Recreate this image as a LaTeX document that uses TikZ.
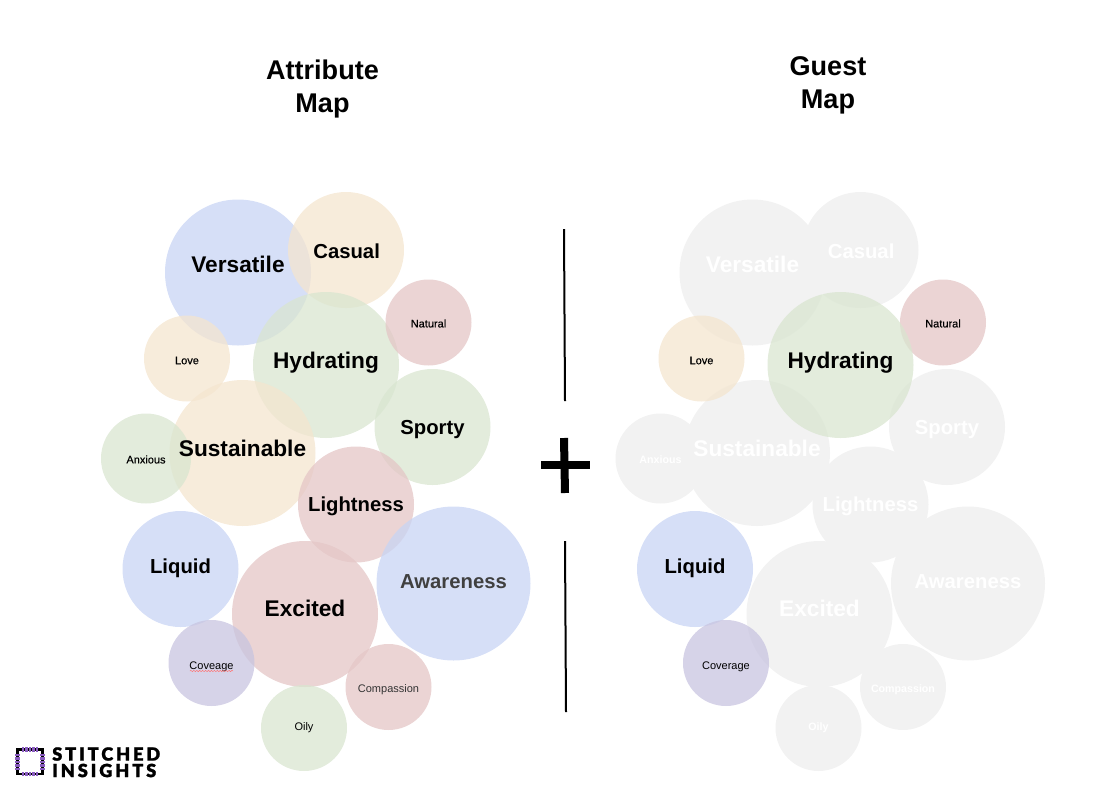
\documentclass[tikz,border=0pt]{standalone}
\usepackage{fontspec}
\setmainfont{Liberation Sans}
\newfontfamily\logofont[LetterSpace=16,FakeBold=1.2]{Lato Black}
\newfontfamily\fauxfont[FakeBold=0.25]{Liberation Sans}
\usepackage{xcolor}
\usetikzlibrary{decorations.pathmorphing}

\definecolor{ablue}{HTML}{C8D4F4}
\definecolor{apeach}{HTML}{F4E5CF}
\definecolor{agreen}{HTML}{D9E5D0}
\definecolor{ared}{HTML}{E4C6C6}
\definecolor{apurple}{HTML}{C8C4E0}
\definecolor{agrey}{HTML}{F2F2F2}
\definecolor{astitch}{HTML}{8A5CC0}

\begin{document}
\begin{tikzpicture}[
  x=0.75pt, y=-0.75pt,
  bubble/.style={circle, inner sep=0pt, minimum size=#1*0.75pt, fill opacity=0.75, text opacity=1},
  ghost/.style={circle, inner sep=0pt, minimum size=#1*0.75pt, fill=agrey},
  biglab/.style={font=\fontsize{17}{20}\selectfont\bfseries, inner sep=0pt, opacity=1},
  midlab/.style={font=\fontsize{15.2}{18}\selectfont\bfseries, inner sep=0pt, opacity=1},
  lowlab/.style={font=\fontsize{8.25}{10}\selectfont, inner sep=0pt, opacity=1},
  fauxlab/.style={font=\fontsize{8.25}{10}\selectfont\fauxfont, inner sep=0pt, opacity=1},
  whitelab/.style={font=\fontsize{8}{10}\selectfont\bfseries, text=white, inner sep=0pt, opacity=1},
  title/.style={font=\fontsize{20.3}{24.5}\selectfont\bfseries, align=center, inner sep=0pt},
  logolab/.style={anchor=west, inner sep=0pt, font=\fontsize{13.6}{14}\selectfont\logofont},
  rule/.style={line width=1.5pt},
  plusbar/.style={line width=6pt},
  stitch/.style={astitch, line width=3.6pt, dash pattern=on 1.6pt off 1pt}
]
\useasboundingbox (0,0) rectangle (1104,804);

% attribute map
\node[title] (attrtitle) at (322.5,89) {Attribute\\Map};
\node[bubble=146, fill=ablue, label={[biglab,yshift=6pt]center:Versatile}] (versatile) at (238,272.5) {};
\node[bubble=116, fill=apeach, label={[midlab,xshift=0.5pt,yshift=-0.75pt]center:Casual}] (casual) at (346,250) {};
\node[bubble=146, fill=agreen, label={[biglab,yshift=2pt]center:Hydrating}] (hydrating) at (326,365) {};
\node[bubble=86, fill=ared, label={[fauxlab,yshift=-0.75pt]center:Natural}] (natural) at (428.5,322.5) {};
\node[bubble=86, fill=apeach, label={[fauxlab,yshift=-1.5pt]center:Love}] (love) at (187,358.5) {};
\node[bubble=146, fill=apeach] (sustainable) at (242.5,453) {};
\node[bubble=90, fill=agreen, label={[fauxlab,yshift=-0.75pt]center:Anxious}] (anxious) at (146,458.5) {};
\node[biglab] (sustainablelab) at (242.5,448.3) {Sustainable};
\node[bubble=116, fill=agreen, label={[midlab,yshift=-2.25pt]center:Sporty}] (sporty) at (432.5,427) {};
\node[bubble=116, fill=ared, label={[midlab,yshift=-1.5pt]center:Lightness}] (lightness) at (356,504.5) {};
\node[bubble=154, fill=ablue, label={[midlab,text=black!75,yshift=1.5pt]center:Awareness}] (awareness) at (453.5,583.5) {};
\node[bubble=116, fill=ablue, label={[midlab,yshift=0.75pt]center:Liquid}] (liquid) at (180.5,569) {};
\node[bubble=146, fill=ared, label={[biglab,yshift=4.5pt]center:Excited}] (excited) at (305,614) {};
\node[bubble=86, fill=apurple, label={[lowlab,yshift=-3pt]center:Coveage}] (coveage) at (211.5,663) {};
\node[bubble=86, fill=ared, label={[lowlab,text=black!80,yshift=-2.25pt]center:Compassion}] (compassion) at (388.5,687) {};
\node[bubble=86, fill=agreen, label={[lowlab]center:Oily}] (oily) at (304,728) {};
\coordinate (squigleft) at (190,671);
\coordinate (squigright) at (233,671);
\draw[red!55!white, line width=0.35pt, decorate, decoration={snake, amplitude=0.5pt, segment length=2.2pt}] (squigleft) -- (squigright);

% divider
\coordinate (ruleatop) at (564,229);
\coordinate (ruleabot) at (565,401);
\coordinate (rulebtop) at (565,541);
\coordinate (rulebbot) at (566,712);
\coordinate (plustop) at (564,438);
\coordinate (plusbot) at (565,493);
\coordinate (plusleft) at (541,465);
\coordinate (plusright) at (589.5,465);
\draw[rule] (ruleatop) -- (ruleabot);
\draw[rule] (rulebtop) -- (rulebbot);
\draw[plusbar] (plustop) -- (plusbot);
\draw[plusbar] (plusleft) -- (plusright);

% guest map
\node[title] (guesttitle) at (828,85.5) {Guest\\Map};
\node[ghost=146, label={[biglab,white,yshift=6pt]center:Versatile}] (gversatile) at (752.5,272.5) {};
\node[ghost=116, label={[midlab,white,xshift=0.5pt,yshift=-0.75pt]center:Casual}] (gcasual) at (860.5,250) {};
\node[ghost=116, label={[midlab,white,yshift=-2.25pt]center:Sporty}] (gsporty) at (947,427) {};
\node[ghost=90, label={[whitelab,yshift=-0.75pt]center:Anxious}] (ganxious) at (660.5,458.5) {};
\node[ghost=146, label={[biglab,white,yshift=3.5pt]center:Sustainable}] (gsustainable) at (757,453) {};
\node[ghost=116, label={[midlab,white,yshift=-1.5pt]center:Lightness}] (glightness) at (870.5,504.5) {};
\node[ghost=154, label={[midlab,white,yshift=1.5pt]center:Awareness}] (gawareness) at (968,583.5) {};
\node[ghost=146, label={[biglab,white,yshift=4.5pt]center:Excited}] (gexcited) at (819.5,614) {};
\node[ghost=86, label={[whitelab,yshift=-2.25pt]center:Compassion}] (gcompassion) at (903,687) {};
\node[ghost=86, label={[whitelab]center:Oily}] (goily) at (818.5,728) {};
\node[bubble=86, fill=ared, label={[fauxlab,yshift=-0.75pt]center:Natural}] (gnatural) at (943,322.5) {};
\node[bubble=146, fill=agreen, label={[biglab,yshift=2pt]center:Hydrating}] (ghydrating) at (840.5,365) {};
\node[bubble=86, fill=apeach, label={[fauxlab,yshift=-1.5pt]center:Love}] (glove) at (701.5,358.5) {};
\node[bubble=116, fill=ablue, label={[midlab,yshift=0.75pt]center:Liquid}] (gliquid) at (695,569) {};
\node[bubble=86, fill=apurple, label={[lowlab,yshift=-3pt]center:Coverage}] (gcoverage) at (726,663) {};

% logo
\coordinate (logoa) at (17.5,749.5);
\coordinate (logob) at (42.5,774);
\draw[line width=1.8pt] (logoa) rectangle (logob);
\draw[stitch] (22,749.5) -- (38,749.5);
\draw[stitch] (22,774) -- (38,774);
\draw[stitch] (17.5,754) -- (17.5,770);
\draw[stitch] (42.5,754) -- (42.5,770);
\node[logolab] (logotop) at (52,754) {STITCHED};
\node[logolab] (logobot) at (52,770.5) {INSIGHTS};
\end{tikzpicture}
\end{document}
